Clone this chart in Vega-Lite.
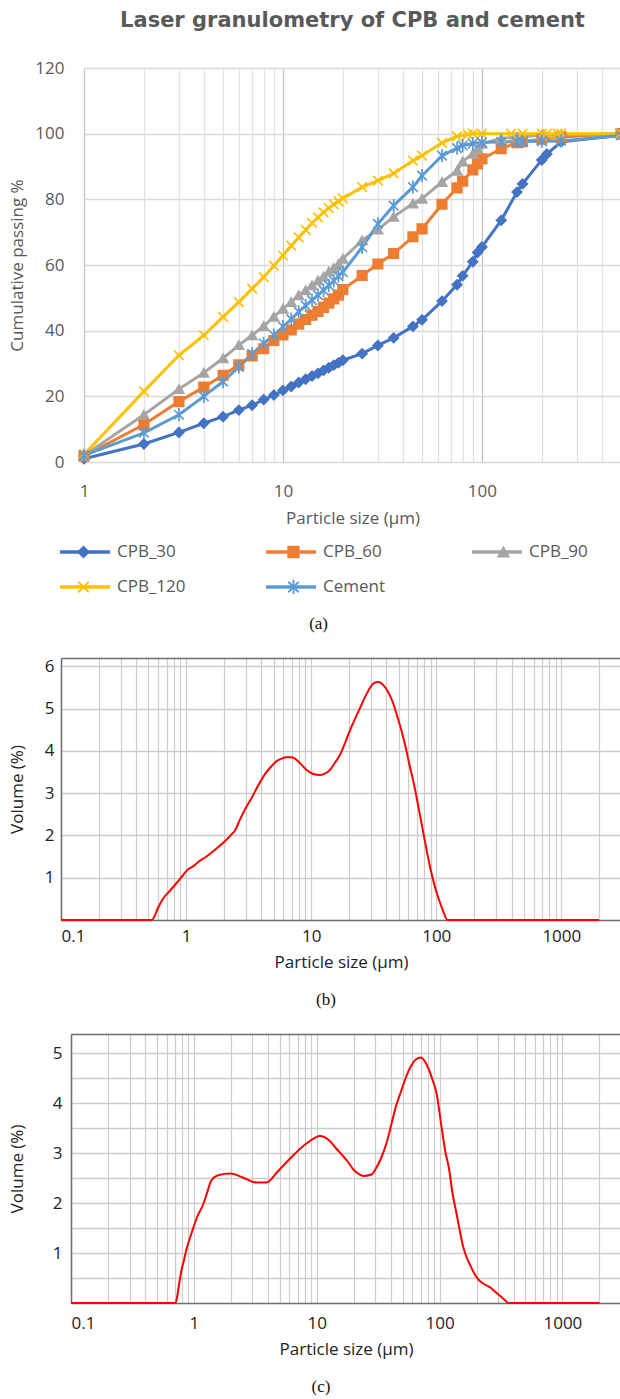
{
  "$schema": "https://vega.github.io/schema/vega-lite/v6.json",
  "padding": {"left": 8, "top": 10, "right": 0, "bottom": 0},
  "background": "white",
  "spacing": 17,
  "config": {"view": {"stroke": null}, "font": "Open Sans"},
  "datasets": {
    "grading": [
      {"s":"CPB_30","d":1,"p":1},{"s":"CPB_30","d":2,"p":5.5},{"s":"CPB_30","d":3,"p":9},{"s":"CPB_30","d":4,"p":11.8},{"s":"CPB_30","d":5,"p":13.8},{"s":"CPB_30","d":6,"p":15.8},{"s":"CPB_30","d":7,"p":17.3},{"s":"CPB_30","d":8,"p":19},{"s":"CPB_30","d":9,"p":20.4},{"s":"CPB_30","d":10,"p":21.8},{"s":"CPB_30","d":11,"p":23},{"s":"CPB_30","d":12,"p":24.2},{"s":"CPB_30","d":13,"p":25.2},{"s":"CPB_30","d":14,"p":26.2},{"s":"CPB_30","d":15,"p":27},{"s":"CPB_30","d":16,"p":27.9},{"s":"CPB_30","d":17,"p":28.7},{"s":"CPB_30","d":18,"p":29.5},{"s":"CPB_30","d":19,"p":30.2},{"s":"CPB_30","d":20,"p":31},{"s":"CPB_30","d":25,"p":33},{"s":"CPB_30","d":30,"p":35.5},{"s":"CPB_30","d":36,"p":37.8},{"s":"CPB_30","d":45,"p":41.3},{"s":"CPB_30","d":50,"p":43.3},{"s":"CPB_30","d":63,"p":49},{"s":"CPB_30","d":75,"p":54},{"s":"CPB_30","d":80,"p":56.7},{"s":"CPB_30","d":90,"p":61},{"s":"CPB_30","d":95,"p":63.8},{"s":"CPB_30","d":100,"p":65.5},{"s":"CPB_30","d":125,"p":73.6},{"s":"CPB_30","d":150,"p":82.2},{"s":"CPB_30","d":160,"p":84.7},{"s":"CPB_30","d":200,"p":92},{"s":"CPB_30","d":212,"p":93.8},{"s":"CPB_30","d":250,"p":97.5},{"s":"CPB_30","d":500,"p":99.5},
      {"s":"CPB_60","d":1,"p":1.8},{"s":"CPB_60","d":2,"p":11.4},{"s":"CPB_60","d":3,"p":18.4},{"s":"CPB_60","d":4,"p":22.8},{"s":"CPB_60","d":5,"p":26.4},{"s":"CPB_60","d":6,"p":29.6},{"s":"CPB_60","d":7,"p":32.3},{"s":"CPB_60","d":8,"p":34.5},{"s":"CPB_60","d":9,"p":37},{"s":"CPB_60","d":10,"p":38.7},{"s":"CPB_60","d":11,"p":40.2},{"s":"CPB_60","d":12,"p":42},{"s":"CPB_60","d":13,"p":43.4},{"s":"CPB_60","d":14,"p":44.7},{"s":"CPB_60","d":15,"p":45.9},{"s":"CPB_60","d":16,"p":47.1},{"s":"CPB_60","d":17,"p":48.4},{"s":"CPB_60","d":18,"p":49.7},{"s":"CPB_60","d":19,"p":50.8},{"s":"CPB_60","d":20,"p":52.5},{"s":"CPB_60","d":25,"p":56.8},{"s":"CPB_60","d":30,"p":60.3},{"s":"CPB_60","d":36,"p":63.5},{"s":"CPB_60","d":45,"p":68.6},{"s":"CPB_60","d":50,"p":71},{"s":"CPB_60","d":63,"p":78.5},{"s":"CPB_60","d":75,"p":83.5},{"s":"CPB_60","d":80,"p":85.5},{"s":"CPB_60","d":90,"p":89},{"s":"CPB_60","d":95,"p":90.8},{"s":"CPB_60","d":100,"p":92.3},{"s":"CPB_60","d":125,"p":95.4},{"s":"CPB_60","d":150,"p":97.3},{"s":"CPB_60","d":160,"p":97.6},{"s":"CPB_60","d":200,"p":98.3},{"s":"CPB_60","d":250,"p":99},{"s":"CPB_60","d":500,"p":100},
      {"s":"CPB_90","d":1,"p":2},{"s":"CPB_90","d":2,"p":14.4},{"s":"CPB_90","d":3,"p":22.2},{"s":"CPB_90","d":4,"p":27.2},{"s":"CPB_90","d":5,"p":31.6},{"s":"CPB_90","d":6,"p":35.6},{"s":"CPB_90","d":7,"p":38.6},{"s":"CPB_90","d":8,"p":41.4},{"s":"CPB_90","d":9,"p":44.2},{"s":"CPB_90","d":10,"p":46.7},{"s":"CPB_90","d":11,"p":48.7},{"s":"CPB_90","d":12,"p":50.8},{"s":"CPB_90","d":13,"p":52.3},{"s":"CPB_90","d":14,"p":53.8},{"s":"CPB_90","d":15,"p":55.3},{"s":"CPB_90","d":16,"p":56.5},{"s":"CPB_90","d":17,"p":58},{"s":"CPB_90","d":18,"p":59.1},{"s":"CPB_90","d":19,"p":60.3},{"s":"CPB_90","d":20,"p":61.9},{"s":"CPB_90","d":25,"p":67.5},{"s":"CPB_90","d":30,"p":70.8},{"s":"CPB_90","d":36,"p":74.7},{"s":"CPB_90","d":45,"p":78.7},{"s":"CPB_90","d":50,"p":80.2},{"s":"CPB_90","d":63,"p":85.3},{"s":"CPB_90","d":75,"p":88.7},{"s":"CPB_90","d":80,"p":91.5},{"s":"CPB_90","d":90,"p":93.9},{"s":"CPB_90","d":95,"p":95.4},{"s":"CPB_90","d":100,"p":97},{"s":"CPB_90","d":125,"p":98.5},{"s":"CPB_90","d":150,"p":99},{"s":"CPB_90","d":200,"p":99.5},{"s":"CPB_90","d":250,"p":99.7},{"s":"CPB_90","d":500,"p":100},
      {"s":"CPB_120","d":1,"p":2.3},{"s":"CPB_120","d":2,"p":21.5},{"s":"CPB_120","d":3,"p":32.5},{"s":"CPB_120","d":4,"p":38.6},{"s":"CPB_120","d":5,"p":44.2},{"s":"CPB_120","d":6,"p":48.7},{"s":"CPB_120","d":7,"p":52.8},{"s":"CPB_120","d":8,"p":56.3},{"s":"CPB_120","d":9,"p":59.8},{"s":"CPB_120","d":10,"p":62.9},{"s":"CPB_120","d":11,"p":65.9},{"s":"CPB_120","d":12,"p":68.4},{"s":"CPB_120","d":13,"p":70.7},{"s":"CPB_120","d":14,"p":72.8},{"s":"CPB_120","d":15,"p":74.5},{"s":"CPB_120","d":16,"p":76},{"s":"CPB_120","d":17,"p":77.3},{"s":"CPB_120","d":18,"p":78.5},{"s":"CPB_120","d":19,"p":79.4},{"s":"CPB_120","d":20,"p":80.3},{"s":"CPB_120","d":25,"p":83.7},{"s":"CPB_120","d":30,"p":85.7},{"s":"CPB_120","d":36,"p":87.9},{"s":"CPB_120","d":45,"p":91.8},{"s":"CPB_120","d":50,"p":93.3},{"s":"CPB_120","d":63,"p":97.2},{"s":"CPB_120","d":75,"p":99.2},{"s":"CPB_120","d":85,"p":99.8},{"s":"CPB_120","d":90,"p":100},{"s":"CPB_120","d":100,"p":100},{"s":"CPB_120","d":140,"p":100},{"s":"CPB_120","d":160,"p":100},{"s":"CPB_120","d":200,"p":100},{"s":"CPB_120","d":212,"p":100},{"s":"CPB_120","d":240,"p":100},{"s":"CPB_120","d":250,"p":100},{"s":"CPB_120","d":500,"p":100},
      {"s":"Cement","d":1,"p":2},{"s":"Cement","d":2,"p":8.9},{"s":"Cement","d":3,"p":14.4},{"s":"Cement","d":4,"p":20},{"s":"Cement","d":5,"p":24.5},{"s":"Cement","d":6,"p":29},{"s":"Cement","d":7,"p":32.9},{"s":"Cement","d":8,"p":36.1},{"s":"Cement","d":9,"p":38.6},{"s":"Cement","d":10,"p":41.2},{"s":"Cement","d":11,"p":43.5},{"s":"Cement","d":12,"p":45.7},{"s":"Cement","d":13,"p":47.6},{"s":"Cement","d":14,"p":49.3},{"s":"Cement","d":15,"p":50.8},{"s":"Cement","d":16,"p":52.3},{"s":"Cement","d":17,"p":53.8},{"s":"Cement","d":18,"p":55.2},{"s":"Cement","d":19,"p":56.6},{"s":"Cement","d":20,"p":57.8},{"s":"Cement","d":25,"p":65.4},{"s":"Cement","d":30,"p":72.5},{"s":"Cement","d":36,"p":78.1},{"s":"Cement","d":45,"p":83.7},{"s":"Cement","d":50,"p":87.2},{"s":"Cement","d":63,"p":93.3},{"s":"Cement","d":75,"p":95.6},{"s":"Cement","d":80,"p":96.4},{"s":"Cement","d":90,"p":97},{"s":"Cement","d":100,"p":97.3},{"s":"Cement","d":125,"p":97.5},{"s":"Cement","d":150,"p":97.6},{"s":"Cement","d":160,"p":97.6},{"s":"Cement","d":200,"p":97.7},{"s":"Cement","d":250,"p":97.8},{"s":"Cement","d":500,"p":99.5}
    ],
    "psdB": [
      {"d":0.1,"v":0},{"d":0.53,"v":0},{"d":0.6,"v":0.3},{"d":0.65,"v":0.49},{"d":0.72,"v":0.65},{"d":0.82,"v":0.84},{"d":0.92,"v":1.02},{"d":1.02,"v":1.18},{"d":1.15,"v":1.28},{"d":1.27,"v":1.39},{"d":1.42,"v":1.48},{"d":1.59,"v":1.59},{"d":1.8,"v":1.72},{"d":2.05,"v":1.87},{"d":2.3,"v":2.02},{"d":2.46,"v":2.12},{"d":2.7,"v":2.38},{"d":3.0,"v":2.65},{"d":3.4,"v":2.93},{"d":3.8,"v":3.2},{"d":4.25,"v":3.44},{"d":4.75,"v":3.62},{"d":5.29,"v":3.76},{"d":5.8,"v":3.82},{"d":6.35,"v":3.85},{"d":6.9,"v":3.85},{"d":7.33,"v":3.83},{"d":8.2,"v":3.7},{"d":9.1,"v":3.56},{"d":10.3,"v":3.46},{"d":11.8,"v":3.43},{"d":13,"v":3.47},{"d":14.2,"v":3.56},{"d":15.5,"v":3.72},{"d":17,"v":3.91},{"d":18.6,"v":4.18},{"d":20.3,"v":4.47},{"d":22.4,"v":4.76},{"d":24.6,"v":5.02},{"d":27,"v":5.28},{"d":29.5,"v":5.49},{"d":31.5,"v":5.6},{"d":34.2,"v":5.63},{"d":36.5,"v":5.6},{"d":39.4,"v":5.49},{"d":42.5,"v":5.32},{"d":45.6,"v":5.1},{"d":49,"v":4.8},{"d":52.8,"v":4.47},{"d":57,"v":4.08},{"d":61,"v":3.68},{"d":66,"v":3.25},{"d":70.6,"v":2.81},{"d":75,"v":2.4},{"d":79,"v":2.05},{"d":85,"v":1.56},{"d":90,"v":1.2},{"d":95,"v":0.92},{"d":100,"v":0.68},{"d":106,"v":0.45},{"d":114,"v":0.2},{"d":123,"v":0},{"d":2000,"v":0}
    ],
    "psdC": [
      {"d":0.1,"v":0},{"d":0.71,"v":0},{"d":0.75,"v":0.3},{"d":0.79,"v":0.64},{"d":0.83,"v":0.85},{"d":0.87,"v":1.07},{"d":0.95,"v":1.37},{"d":1.06,"v":1.71},{"d":1.19,"v":1.97},{"d":1.28,"v":2.2},{"d":1.38,"v":2.44},{"d":1.6,"v":2.56},{"d":2.0,"v":2.59},{"d":2.5,"v":2.51},{"d":3.24,"v":2.41},{"d":3.89,"v":2.41},{"d":4.86,"v":2.64},{"d":5.7,"v":2.82},{"d":6.55,"v":2.97},{"d":7.6,"v":3.12},{"d":8.81,"v":3.24},{"d":10.6,"v":3.34},{"d":12.8,"v":3.24},{"d":14.3,"v":3.1},{"d":16,"v":2.97},{"d":18,"v":2.82},{"d":19.9,"v":2.67},{"d":22,"v":2.58},{"d":24,"v":2.54},{"d":27.9,"v":2.57},{"d":30.5,"v":2.7},{"d":33.6,"v":2.91},{"d":37,"v":3.2},{"d":40.5,"v":3.57},{"d":44,"v":3.92},{"d":48.7,"v":4.24},{"d":53,"v":4.5},{"d":58.6,"v":4.74},{"d":64,"v":4.87},{"d":70.6,"v":4.91},{"d":76,"v":4.83},{"d":81.9,"v":4.67},{"d":88,"v":4.45},{"d":95,"v":4.17},{"d":100,"v":3.8},{"d":106,"v":3.37},{"d":112,"v":3.0},{"d":119,"v":2.71},{"d":128,"v":2.17},{"d":138,"v":1.77},{"d":146,"v":1.45},{"d":154,"v":1.17},{"d":165,"v":0.93},{"d":179,"v":0.74},{"d":193,"v":0.58},{"d":207,"v":0.47},{"d":230,"v":0.38},{"d":259,"v":0.31},{"d":285,"v":0.22},{"d":312,"v":0.14},{"d":340,"v":0.06},{"d":362,"v":0},{"d":2000,"v":0}
    ]
  },
  "vconcat": [
    {
      "title": {"text": "(a)", "orient": "bottom", "anchor": "middle", "frame": "bounds", "font": "Liberation Serif", "fontSize": 17, "fontWeight": "normal", "color": "#111111", "offset": 90},
      "vconcat": [
        {
          "width": 537,
          "height": 394,
          "title": {"text": "Laser granulometry of CPB and cement", "font": "DejaVu Sans", "fontSize": 21, "fontWeight": "bold", "color": "#595959", "anchor": "middle", "offset": 28},
          "data": {"name": "grading"},
          "encoding": {
            "x": {"field": "d", "type": "quantitative", "scale": {"type": "log", "domain": [1, 500], "nice": false},
              "axis": {"values": [1,2,3,4,5,6,7,8,9,10,20,30,40,50,60,70,80,90,100,200,300,400,500],
                "labelExpr": "indexof([1,10,100], datum.value) >= 0 ? '' + datum.value : ''",
                "labelOverlap": false, "labelFlush": false, "ticks": false, "domain": false, "grid": true,
                "gridColor": {"condition": {"test": "indexof([1,10,100], datum.value) >= 0", "value": "#c4c4c4"}, "value": "#e2e2e2"},
                "gridWidth": 1.3, "labelFontSize": 17, "labelColor": "#595959", "labelPadding": 21,
                "title": "Particle size (μm)", "titleFontSize": 17, "titleFontWeight": "normal", "titleColor": "#595959", "titlePadding": 11}},
            "y": {"field": "p", "type": "quantitative", "scale": {"domain": [0, 120], "nice": false},
              "axis": {"values": [0,20,40,60,80,100,120], "domain": false, "ticks": false, "grid": true, "gridColor": "#d9d9d9", "gridWidth": 1.3,
                "labelFontSize": 17, "labelColor": "#595959", "labelPadding": 20, "minExtent": 50, "maxExtent": 50,
                "title": "Cumulative passing %", "titleFontSize": 17, "titleFontWeight": "normal", "titleColor": "#595959", "titlePadding": 8}},
            "color": {"field": "s", "type": "nominal",
              "scale": {"domain": ["CPB_30","CPB_60","CPB_90","CPB_120","Cement"], "range": ["#4472C4","#ED7D31","#A5A5A5","#FFC000","#5B9BD5"]},
              "legend": {"orient": "none", "legendX": -26, "legendY": 474, "direction": "horizontal", "columns": 3, "title": null,
                "symbolType": "M-1,0L1,0", "symbolSize": 2500, "symbolStrokeWidth": 3.5, "labelFontSize": 17, "labelColor": "#595959", "labelOffset": 5,
                "columnPadding": 78, "rowPadding": 15, "clipHeight": 20, "gridAlign": "all"}}
          },
          "layer": [
            {"mark": {"type": "line", "strokeWidth": 3}},
            {"mark": {"type": "point", "filled": true, "size": 90, "strokeWidth": 1.7, "opacity": 1},
              "encoding": {
                "fill": {"field": "s", "type": "nominal",
                  "scale": {"domain": ["Cement","CPB_30","CPB_60","CPB_90","CPB_120"], "range": ["#5B9BD5","#4472C4","#ED7D31","#A5A5A5","#FFC000"]},
                  "legend": {"orient": "none", "legendX": -26, "legendY": 474, "direction": "horizontal", "columns": 3, "title": null,
                    "values": ["CPB_30","CPB_60","CPB_90","CPB_120","Cement"],
                    "symbolSize": 110, "symbolStrokeWidth": 1.8, "symbolOffset": 17, "labelOffset": 29.3, "labelFontSize": 17, "labelOpacity": 0,
                    "columnPadding": 78, "rowPadding": 15, "clipHeight": 20, "gridAlign": "all"}},
                "stroke": {"field": "s", "type": "nominal",
                  "scale": {"domain": ["Cement","CPB_30","CPB_60","CPB_90","CPB_120"], "range": ["#5B9BD5","#4472C4","#ED7D31","#A5A5A5","#FFC000"]},
                  "legend": {"orient": "none", "legendX": -26, "legendY": 474, "direction": "horizontal", "columns": 3, "title": null,
                    "values": ["CPB_30","CPB_60","CPB_90","CPB_120","Cement"],
                    "symbolSize": 110, "symbolStrokeWidth": 1.8, "symbolOffset": 17, "labelOffset": 29.3, "labelFontSize": 17, "labelOpacity": 0,
                    "columnPadding": 78, "rowPadding": 15, "clipHeight": 20, "gridAlign": "all"}},
                "shape": {"field": "s", "type": "nominal",
                  "scale": {"domain": ["Cement","CPB_30","CPB_60","CPB_90","CPB_120"], "range": ["M-1,-1L1,1M-1,1L1,-1M0,-1.4L0,1.4","diamond","square","triangle-up","M-1,-1L1,1M-1,1L1,-1"]},
                  "legend": {"orient": "none", "legendX": -26, "legendY": 474, "direction": "horizontal", "columns": 3, "title": null,
                    "values": ["CPB_30","CPB_60","CPB_90","CPB_120","Cement"],
                    "symbolSize": 110, "symbolStrokeWidth": 1.8, "symbolOffset": 17, "labelOffset": 29.3, "labelFontSize": 17, "labelOpacity": 0,
                    "columnPadding": 78, "rowPadding": 15, "clipHeight": 20, "gridAlign": "all"}}
              }}
          ]
        }
      ]
    },
    {
      "title": {"text": "(b)", "orient": "bottom", "anchor": "middle", "frame": "bounds", "font": "Liberation Serif", "fontSize": 17, "fontWeight": "normal", "color": "#111111", "offset": 22},
      "vconcat": [
        {
          "width": 537,
          "height": 262,
          "data": {"name": "psdB"},
          "mark": {"type": "line", "color": "#ff0000", "strokeWidth": 2, "interpolate": "monotone"},
          "encoding": {
            "x": {"field": "d", "type": "quantitative", "scale": {"type": "log", "domain": [0.1, 3000], "nice": false, "range": [-23, 537]},
              "axis": {"values": [0.1,0.2,0.3,0.4,0.5,0.6,0.7,0.8,0.9,1,2,3,4,5,6,7,8,9,10,20,30,40,50,60,70,80,90,100,200,300,400,500,600,700,800,900,1000,2000,3000],
                "labelExpr": "indexof([0.1,1,10,100,1000], datum.value) >= 0 ? '' + datum.value : ''",
                "labelOverlap": false, "labelFlush": true, "ticks": false, "domain": true, "domainColor": "#6e6e6e", "domainWidth": 1.5,
                "grid": true, "gridColor": "#cccccc", "gridWidth": 1.2,
                "labelFontSize": 17, "labelColor": "#222222", "labelPadding": 8,
                "title": "Particle size (μm)", "titleFontSize": 17, "titleFontWeight": "normal", "titleColor": "#222222", "titlePadding": 10}},
            "y": {"field": "v", "type": "quantitative", "scale": {"domain": [0, 6.2], "nice": false},
              "axis": {"values": [1,2,3,4,5,6,6.2], "labelExpr": "datum.value % 1 == 0 ? '' + datum.value : ''", "labelOverlap": false,
                "offset": 23, "domain": true, "domainColor": "#6e6e6e", "domainWidth": 1.5, "ticks": false, "grid": true,
                "gridColor": {"condition": {"test": "datum.value > 6.1", "value": "#6e6e6e"}, "value": "#cccccc"}, "gridWidth": 1.5,
                "labelFontSize": 17, "labelColor": "#222222", "labelPadding": 7, "minExtent": 17, "maxExtent": 17,
                "title": "Volume (%)", "titleFontSize": 17, "titleFontWeight": "normal", "titleColor": "#222222", "titlePadding": 18}}
          }
        }
      ]
    },
    {
      "title": {"text": "(c)", "orient": "bottom", "anchor": "middle", "frame": "bounds", "font": "Liberation Serif", "fontSize": 17, "fontWeight": "normal", "color": "#111111", "offset": 22},
      "vconcat": [
        {
          "width": 537,
          "height": 269,
          "data": {"name": "psdC"},
          "mark": {"type": "line", "color": "#ff0000", "strokeWidth": 2, "interpolate": "monotone"},
          "encoding": {
            "x": {"field": "d", "type": "quantitative", "scale": {"type": "log", "domain": [0.1, 3000], "nice": false, "range": [-13, 537]},
              "axis": {"values": [0.1,0.2,0.3,0.4,0.5,0.6,0.7,0.8,0.9,1,2,3,4,5,6,7,8,9,10,20,30,40,50,60,70,80,90,100,200,300,400,500,600,700,800,900,1000,2000,3000],
                "labelExpr": "indexof([0.1,1,10,100,1000], datum.value) >= 0 ? '' + datum.value : ''",
                "labelOverlap": false, "labelFlush": true, "ticks": false, "domain": true, "domainColor": "#6e6e6e", "domainWidth": 1.5,
                "grid": true, "gridColor": "#cccccc", "gridWidth": 1.2,
                "labelFontSize": 17, "labelColor": "#222222", "labelPadding": 12,
                "title": "Particle size (μm)", "titleFontSize": 17, "titleFontWeight": "normal", "titleColor": "#222222", "titlePadding": 10}},
            "y": {"field": "v", "type": "quantitative", "scale": {"domain": [0, 5.38], "nice": false},
              "axis": {"values": [0.5,1,1.5,2,2.5,3,3.5,4,4.5,5,5.38], "labelExpr": "datum.value % 1 == 0 ? '' + datum.value : ''", "labelOverlap": false,
                "offset": 13, "domain": true, "domainColor": "#6e6e6e", "domainWidth": 1.5, "ticks": false, "grid": true,
                "gridColor": {"condition": {"test": "datum.value > 5.3", "value": "#6e6e6e"}, "value": "#cccccc"}, "gridWidth": 1.5,
                "labelFontSize": 17, "labelColor": "#222222", "labelPadding": 9, "minExtent": 19, "maxExtent": 19,
                "title": "Volume (%)", "titleFontSize": 17, "titleFontWeight": "normal", "titleColor": "#222222", "titlePadding": 26}}
          }
        }
      ]
    }
  ]
}
